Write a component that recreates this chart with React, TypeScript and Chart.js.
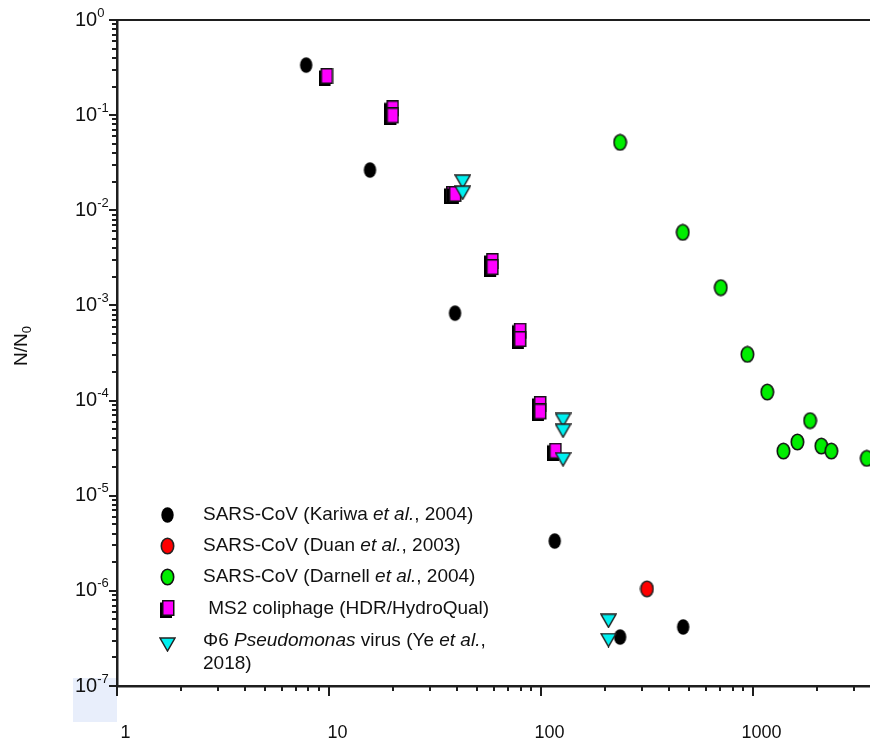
import React, { useEffect, useRef } from 'react';
import { Chart, registerables } from 'chart.js';

Chart.register(...registerables);

// ---------- data ----------
const X_MIN = 1;
const X_MAX = 3560;
const Y_MIN = 1e-7;
const Y_MAX = 1;

const xTickValues = [1, 10, 100, 1000];
const xTickLabels = ['1', '10', '100', '1000'];
const yTickExponents = [0, -1, -2, -3, -4, -5, -6, -7];
const yAxisTitle = 'N/N';
const yAxisTitleSub = '0';

// SARS-CoV (Kariwa et al., 2004)
const kariwaX = [7.8, 15.6, 39.3, 116, 236, 468];
const kariwaY = [0.336, 0.0265, 8.3e-4, 3.34e-6, 3.27e-7, 4.17e-7];

// SARS-CoV (Duan et al., 2003)
const duanX = [316];
const duanY = [1.05e-6];

// SARS-CoV (Darnell et al., 2004)
const darnellX = [236, 466, 704, 940, 1167, 1390, 1618, 1858, 2099, 2340, 3437];
const darnellY = [0.0518, 0.00586, 1.54e-3, 3.06e-4, 1.23e-4, 2.95e-5, 3.67e-5, 6.16e-5, 3.33e-5, 2.95e-5, 2.47e-5];

// MS2 coliphage (HDR/HydroQual)
const ms2X = [9.68, 19.8, 19.8, 37.8, 39.0, 58.5, 58.5, 79, 79, 98.2, 98.2, 116];
const ms2Y = [0.252, 0.115, 0.097, 0.0145, 0.0145, 2.86e-3, 2.47e-3, 5.3e-4, 4.33e-4, 9.0e-5, 7.5e-5, 2.9e-5];

// Phi6 Pseudomonas virus (Ye et al., 2018)
const phi6X = [42.7, 42.7, 127, 127, 127, 208, 208];
const phi6Y = [0.02, 0.0153, 6.25e-5, 4.82e-5, 2.41e-5, 4.85e-7, 3.04e-7];

// legend text segments: [text, italic]
const legendLabels: [string, boolean][][][] = [
  [[['SARS-CoV (Kariwa ', false], ['et al.', true], [', 2004)', false]]],
  [[['SARS-CoV (Duan ', false], ['et al.', true], [', 2003)', false]]],
  [[['SARS-CoV (Darnell ', false], ['et al.', true], [', 2004)', false]]],
  [[[' MS2 coliphage (HDR/HydroQual)', false]]],
  [
    [['\u03A66 ', false], ['Pseudomonas', true], [' virus (Ye ', false], ['et al.', true], [',', false]],
    [['2018)', false]],
  ],
];

// ---------- styling ----------
const FONT = '"Liberation Sans", Arial, Helvetica, sans-serif';
const AXIS_COLOR = '#1e1e1e';

function makeEllipse(fill: string, stroke: string | null): HTMLCanvasElement {
  const c = document.createElement('canvas');
  c.width = 15;
  c.height = 18;
  const g = c.getContext('2d')!;
  g.beginPath();
  g.ellipse(7.5, 9, 6.2, 7.8, 0, 0, Math.PI * 2);
  g.fillStyle = fill;
  g.fill();
  if (stroke) {
    g.lineWidth = 1.6;
    g.strokeStyle = stroke;
    g.stroke();
  }
  return c;
}

function makeSquare(): HTMLCanvasElement {
  const c = document.createElement('canvas');
  c.width = 15;
  c.height = 18;
  const g = c.getContext('2d')!;
  g.fillStyle = '#000';
  g.fillRect(0, 2.5, 12, 15.5);
  g.fillStyle = '#ff00ff';
  g.fillRect(2.75, 0.75, 11, 14.5);
  g.lineWidth = 1.5;
  g.strokeStyle = '#111';
  g.strokeRect(2.75, 0.75, 11, 14.5);
  return c;
}

function makeTriangle(): HTMLCanvasElement {
  const c = document.createElement('canvas');
  c.width = 17;
  c.height = 15;
  const g = c.getContext('2d')!;
  g.beginPath();
  g.moveTo(1, 1);
  g.lineTo(16, 1);
  g.lineTo(8.5, 14);
  g.closePath();
  g.fillStyle = '#00f0f0';
  g.fill();
  g.lineWidth = 1.5;
  g.strokeStyle = '#222';
  g.stroke();
  return c;
}

function toPoints(xs: number[], ys: number[]) {
  return xs.map((x, i) => ({ x, y: ys[i] }));
}

export default function App() {
  const ref = useRef<HTMLCanvasElement>(null);

  useEffect(() => {
    if (!ref.current) return;
    const markers = [
      makeEllipse('#000000', null),
      makeEllipse('#ff0000', '#222'),
      makeEllipse('#00ee00', '#111'),
      makeSquare(),
      makeTriangle(),
    ];

    const decor = {
      id: 'decor',
      beforeDraw(chart: any) {
        const { ctx, chartArea: ca } = chart;
        const yb = chart.scales.y.getPixelForValue(Y_MIN);
        ctx.save();
        ctx.fillStyle = '#e8eefb';
        ctx.fillRect(73, yb - 8, ca.left - 73, 44);
        ctx.restore();
      },
      afterDraw(chart: any) {
        const { ctx, chartArea: ca } = chart;
        const xs = chart.scales.x;
        const ys = chart.scales.y;
        ctx.save();
        ctx.strokeStyle = AXIS_COLOR;
        ctx.fillStyle = '#111';
        ctx.lineWidth = 2;

        // top frame line
        ctx.beginPath();
        ctx.moveTo(ca.left, ca.top);
        ctx.lineTo(ca.right, ca.top);
        ctx.stroke();

        // y ticks
        for (let e = -7; e <= 0; e++) {
          for (let m = 1; m <= 9; m++) {
            const v = m * Math.pow(10, e);
            if (v > Y_MAX * 1.0000001) break;
            const py = Math.round(ys.getPixelForValue(v));
            const len = m === 1 ? 8 : 5;
            ctx.beginPath();
            ctx.moveTo(ca.left - len, py);
            ctx.lineTo(ca.left, py);
            ctx.stroke();
          }
        }
        // x ticks
        for (let e = 0; e <= 3; e++) {
          for (let m = 1; m <= 9; m++) {
            const v = m * Math.pow(10, e);
            if (v > X_MAX) break;
            const px = Math.round(xs.getPixelForValue(v));
            const len = m === 1 ? 10 : 5;
            ctx.beginPath();
            ctx.moveTo(px, ca.bottom);
            ctx.lineTo(px, ca.bottom + len);
            ctx.stroke();
          }
        }

        // y tick labels 10^n
        ctx.textBaseline = 'middle';
        ctx.textAlign = 'left';
        for (const e of yTickExponents) {
          const py = ys.getPixelForValue(Math.pow(10, e));
          ctx.font = `20px ${FONT}`;
          ctx.fillText('10', 75, py);
          const w = ctx.measureText('10').width;
          ctx.font = `13px ${FONT}`;
          ctx.fillText(String(e), 75 + w, py - 7);
        }

        // x tick labels
        ctx.textAlign = 'center';
        ctx.font = `18px ${FONT}`;
        xTickValues.forEach((v, i) => {
          const px = xs.getPixelForValue(v);
          ctx.fillText(xTickLabels[i], px + 8.5, ca.bottom + 47);
        });

        // y axis title
        ctx.save();
        ctx.translate(22, 346);
        ctx.rotate(-Math.PI / 2);
        ctx.textAlign = 'left';
        ctx.font = `19px ${FONT}`;
        const w1 = ctx.measureText(yAxisTitle).width;
        ctx.font = `13px ${FONT}`;
        const w2 = ctx.measureText(yAxisTitleSub).width;
        const start = -(w1 + w2) / 2;
        ctx.font = `19px ${FONT}`;
        ctx.fillText(yAxisTitle, start, 0);
        ctx.font = `13px ${FONT}`;
        ctx.fillText(yAxisTitleSub, start + w1, 5);
        ctx.restore();

        // legend
        const markerX = 167;
        const textX = 203;
        const rowY = [515, 546, 577, 609, 641];
        const markerDy = [0, 0, 0, 0, 3];
        ctx.textAlign = 'left';
        ctx.textBaseline = 'middle';
        legendLabels.forEach((lines, i) => {
          const mk = markers[i];
          ctx.drawImage(mk, Math.round(markerX - mk.width / 2), Math.round(rowY[i] + markerDy[i] - mk.height / 2));
          lines.forEach((segs, li) => {
            let x = textX;
            const y = rowY[i] + li * 23;
            segs.forEach(([t, it]) => {
              ctx.font = `${it ? 'italic ' : ''}19px ${FONT}`;
              ctx.fillText(t, x, y);
              x += ctx.measureText(t).width;
            });
          });
        });
        ctx.restore();
      },
    };

    const common = { showLine: false, clip: false as any, pointRadius: 7, pointHoverRadius: 7 };
    const chart = new Chart(ref.current, {
      type: 'scatter',
      data: {
        datasets: [
          { label: 'SARS-CoV (Kariwa et al., 2004)', data: toPoints(kariwaX, kariwaY), pointStyle: markers[0], order: 5, ...common },
          { label: 'SARS-CoV (Duan et al., 2003)', data: toPoints(duanX, duanY), pointStyle: markers[1], order: 4, ...common },
          { label: 'SARS-CoV (Darnell et al., 2004)', data: toPoints(darnellX, darnellY), pointStyle: markers[2], order: 3, ...common },
          { label: 'MS2 coliphage (HDR/HydroQual)', data: toPoints(ms2X, ms2Y), pointStyle: markers[3], order: 2, ...common },
          { label: 'Φ6 Pseudomonas virus (Ye et al., 2018)', data: toPoints(phi6X, phi6Y), pointStyle: markers[4], order: 1, ...common },
        ] as any,
      },
      options: {
        responsive: false,
        animation: false,
        devicePixelRatio: 1,
        layout: { autoPadding: false, padding: { top: 20, right: 0, left: 0, bottom: 0 } },
        plugins: { legend: { display: false }, tooltip: { enabled: false } },
        scales: {
          x: {
            type: 'logarithmic',
            min: X_MIN,
            max: X_MAX,
            grid: { display: false },
            border: { display: true, color: AXIS_COLOR, width: 2.5 },
            ticks: { display: false },
            afterFit: (s: any) => { s.height = 58; },
          },
          y: {
            type: 'logarithmic',
            min: Y_MIN,
            max: Y_MAX,
            grid: { display: false },
            border: { display: true, color: AXIS_COLOR, width: 2.5 },
            ticks: { display: false },
            afterFit: (s: any) => { s.width = 117; },
          },
        },
      } as any,
      plugins: [decor],
    });
    return () => chart.destroy();
  }, []);

  return (
    <div style={{ position: 'absolute', left: 0, top: 0, width: 870, height: 744, background: '#fff' }}>
      <canvas ref={ref} width={870} height={744} style={{ display: 'block', width: 870, height: 744 }} />
    </div>
  );
}
